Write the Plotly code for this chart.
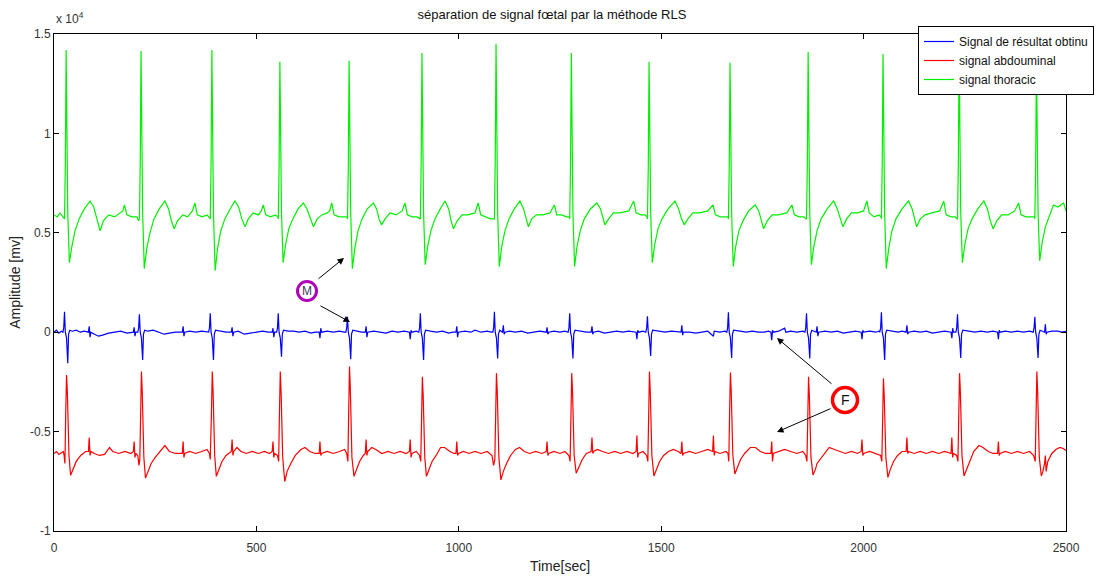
import plotly.graph_objects as go

# ---------------- data (amplitude in units of 1e4, time in samples) ----------------
TITLE = "séparation de signal fœtal par la méthode RLS"
SERIES_NAMES = ["Signal de résultat obtinu", "signal abdouminal", "signal thoracic"]
X_TICKS = [0, 500, 1000, 1500, 2000, 2500]
Y_TICKS = [-1, -0.5, 0, 0.5, 1, 1.5]
Y_TICK_TEXT = ["-1", "-0.5", "0", "0.5", "1", "1.5"]

THORACIC = [
    (0, 0.59), (8, 0.58), (15, 0.60), (22, 0.58),
    (26, 0.57), (28, 0.84), (30, 1.42), (32, 1.01), (34, 0.60), (38, 0.35), (44, 0.43), (52, 0.51), (62, 0.57), (75, 0.62), (89, 0.66), (98, 0.63), (106, 0.57), (114, 0.51), (122, 0.56), (135, 0.59), (150, 0.58), (165, 0.60), (170, 0.61), (174, 0.64), (180, 0.59), (192, 0.58), (205, 0.58), (209, 0.56),
    (211, 0.57), (213, 0.84), (215, 1.415), (217, 1.0), (219, 0.6), (223, 0.32), (229, 0.42), (237, 0.50), (247, 0.57), (260, 0.62), (274, 0.66), (283, 0.62), (290, 0.56), (297, 0.52), (305, 0.56), (318, 0.59), (330, 0.58), (342, 0.61), (348, 0.65), (354, 0.59), (366, 0.58), (378, 0.59), (385, 0.57),
    (386, 0.57), (388, 0.84), (390, 1.42), (392, 1.0), (394, 0.6), (398, 0.31), (404, 0.42), (412, 0.51), (422, 0.57), (435, 0.62), (447, 0.66), (456, 0.63), (464, 0.57), (472, 0.53), (480, 0.57), (492, 0.60), (505, 0.59), (512, 0.61), (517, 0.64), (523, 0.59), (535, 0.58), (547, 0.59), (553, 0.58),
    (554, 0.57), (556, 0.82), (558, 1.36), (560, 0.98), (562, 0.6), (566, 0.35), (572, 0.44), (580, 0.52), (590, 0.57), (603, 0.62), (616, 0.65), (625, 0.62), (633, 0.57), (641, 0.53), (650, 0.57), (662, 0.59), (675, 0.60), (681, 0.61), (686, 0.65), (692, 0.59), (704, 0.58), (716, 0.58), (724, 0.58),
    (725, 0.57), (727, 0.82), (729, 1.365), (731, 0.98), (733, 0.6), (737, 0.32), (743, 0.42), (751, 0.51), (761, 0.57), (774, 0.62), (789, 0.65), (797, 0.62), (803, 0.57), (809, 0.54), (818, 0.57), (830, 0.60), (845, 0.59), (860, 0.61), (867, 0.65), (873, 0.59), (885, 0.58), (897, 0.58), (904, 0.57),
    (905, 0.57), (907, 0.84), (909, 1.405), (911, 1.0), (913, 0.6), (917, 0.34), (923, 0.43), (931, 0.51), (941, 0.57), (954, 0.62), (966, 0.66), (975, 0.62), (981, 0.56), (987, 0.52), (996, 0.56), (1008, 0.59), (1022, 0.59), (1040, 0.60), (1048, 0.65), (1054, 0.59), (1066, 0.58), (1078, 0.57), (1087, 0.57),
    (1088, 0.57), (1090, 0.86), (1092, 1.45), (1094, 1.02), (1096, 0.6), (1100, 0.33), (1106, 0.43), (1114, 0.51), (1124, 0.57), (1137, 0.62), (1151, 0.66), (1160, 0.62), (1166, 0.57), (1172, 0.53), (1180, 0.57), (1192, 0.59), (1207, 0.59), (1225, 0.60), (1236, 0.64), (1242, 0.59), (1254, 0.59), (1266, 0.58), (1273, 0.58),
    (1274, 0.57), (1276, 0.84), (1278, 1.405), (1280, 1.0), (1282, 0.6), (1286, 0.33), (1292, 0.43), (1300, 0.51), (1310, 0.57), (1325, 0.62), (1341, 0.65), (1350, 0.62), (1356, 0.57), (1361, 0.54), (1370, 0.57), (1382, 0.60), (1398, 0.60), (1420, 0.61), (1432, 0.66), (1438, 0.60), (1450, 0.59), (1460, 0.59), (1465, 0.58),
    (1466, 0.57), (1468, 0.82), (1470, 1.36), (1472, 0.98), (1474, 0.6), (1478, 0.35), (1484, 0.44), (1492, 0.52), (1502, 0.57), (1517, 0.62), (1534, 0.66), (1543, 0.62), (1550, 0.57), (1557, 0.54), (1566, 0.57), (1578, 0.60), (1595, 0.60), (1615, 0.61), (1628, 0.64), (1634, 0.59), (1646, 0.58), (1658, 0.58), (1665, 0.58),
    (1666, 0.57), (1668, 0.82), (1670, 1.355), (1672, 0.98), (1674, 0.6), (1678, 0.33), (1684, 0.43), (1692, 0.51), (1702, 0.56), (1716, 0.61), (1732, 0.64), (1741, 0.61), (1747, 0.56), (1753, 0.52), (1762, 0.56), (1774, 0.59), (1790, 0.59), (1810, 0.60), (1823, 0.64), (1829, 0.59), (1841, 0.58), (1852, 0.58), (1858, 0.57),
    (1859, 0.57), (1861, 0.84), (1863, 1.41), (1865, 1.0), (1867, 0.6), (1871, 0.34), (1877, 0.43), (1885, 0.51), (1895, 0.57), (1910, 0.62), (1926, 0.66), (1935, 0.62), (1942, 0.57), (1949, 0.53), (1958, 0.57), (1970, 0.60), (1985, 0.60), (2000, 0.61), (2008, 0.66), (2014, 0.60), (2026, 0.58), (2038, 0.59), (2043, 0.58),
    (2044, 0.57), (2046, 0.84), (2048, 1.40), (2050, 1.0), (2052, 0.6), (2056, 0.32), (2062, 0.42), (2070, 0.51), (2080, 0.57), (2095, 0.62), (2111, 0.66), (2120, 0.62), (2126, 0.57), (2131, 0.53), (2140, 0.57), (2152, 0.59), (2168, 0.60), (2188, 0.61), (2198, 0.66), (2204, 0.59), (2216, 0.58), (2226, 0.58), (2231, 0.57),
    (2232, 0.57), (2234, 0.84), (2236, 1.42), (2238, 1.0), (2240, 0.6), (2244, 0.35), (2250, 0.44), (2258, 0.52), (2268, 0.57), (2282, 0.62), (2297, 0.66), (2306, 0.62), (2313, 0.56), (2320, 0.52), (2329, 0.56), (2341, 0.59), (2357, 0.59), (2373, 0.61), (2383, 0.65), (2389, 0.59), (2401, 0.58), (2414, 0.58), (2422, 0.58),
    (2423, 0.57), (2425, 0.82), (2427, 1.38), (2429, 0.98), (2431, 0.6), (2435, 0.36), (2441, 0.45), (2449, 0.53), (2459, 0.59), (2469, 0.64), (2480, 0.63), (2494, 0.65), (2500, 0.61),
]

RESULT = [
    (0, 0.0), (6, 0.01), (12, -0.005), (18, 0.005),
    (22, 0.0), (24, 0.02), (26, 0.103), (28, 0.0), (31, -0.03), (34, -0.156), (36, -0.01), (39, 0.01), (45, 0.005), (55, 0.01), (65, 0.0), (75, 0.005),
    (85, 0.0), (87, 0.03), (89, -0.025), (91, 0.0),
    (100, -0.01), (110, -0.02), (120, -0.015), (135, -0.005), (150, 0.0), (165, 0.005), (180, -0.005),
    (196, 0.0), (198, 0.025), (200, -0.02), (202, 0.0),
    (207, 0.0), (209, 0.02), (211, 0.09), (213, 0.0), (216, -0.03), (219, -0.14), (221, -0.01), (224, 0.01), (232, 0.005), (245, 0.01), (258, 0.0), (272, -0.01), (285, -0.005), (300, 0.0),
    (317, 0.0), (319, 0.03), (321, -0.02), (323, 0.0),
    (335, 0.005), (350, 0.0), (365, 0.005), (378, 0.0),
    (382, 0.0), (384, 0.02), (386, 0.095), (388, 0.0), (391, -0.03), (394, -0.14), (396, -0.01), (399, 0.01), (410, 0.005), (425, 0.0),
    (438, 0.0), (440, 0.025), (442, -0.02), (444, 0.0),
    (455, 0.005), (470, -0.01), (485, -0.005), (500, 0.0), (515, 0.005), (530, 0.0),
    (539, 0.0), (541, 0.02), (543, -0.025), (545, 0.0),
    (550, 0.0), (552, 0.02), (554, 0.095), (556, 0.0), (559, -0.03), (562, -0.123), (564, -0.01), (567, 0.01), (578, 0.005), (592, 0.005), (605, 0.0), (620, 0.005), (635, -0.005), (645, 0.0),
    (655, 0.0), (657, -0.03), (659, 0.02), (661, 0.0),
    (675, 0.005), (690, 0.0), (705, 0.005), (717, 0.0),
    (721, 0.0), (723, 0.02), (725, 0.078), (727, 0.0), (730, -0.03), (733, -0.136), (735, -0.01), (738, 0.01), (748, 0.005), (760, 0.0),
    (769, 0.0), (771, 0.03), (773, -0.025), (775, 0.0),
    (790, 0.005), (805, 0.0), (820, -0.005), (835, 0.005), (850, 0.0), (865, 0.005),
    (878, 0.0), (880, -0.035), (882, 0.01), (884, 0.0),
    (895, 0.005),
    (901, 0.0), (903, 0.02), (905, 0.095), (907, 0.0), (910, -0.03), (913, -0.14), (915, -0.01), (918, 0.01), (930, 0.005), (945, 0.0), (960, 0.005), (975, -0.005), (985, 0.0),
    (993, 0.0), (995, 0.03), (997, -0.025), (999, 0.0),
    (1015, 0.005), (1030, 0.0), (1040, 0.01), (1055, 0.0), (1070, 0.005), (1080, 0.0),
    (1084, 0.0), (1086, 0.02), (1088, 0.103), (1090, 0.0), (1093, -0.03), (1096, -0.132), (1098, -0.01), (1101, 0.01),
    (1108, 0.0), (1110, 0.035), (1112, -0.01), (1114, 0.0),
    (1125, 0.005), (1140, 0.0), (1155, 0.005), (1170, -0.005), (1185, 0.0), (1200, 0.005),
    (1216, 0.0), (1218, 0.025), (1220, -0.01), (1222, 0.0),
    (1235, 0.005), (1250, 0.0), (1262, 0.005),
    (1270, 0.0), (1272, 0.02), (1274, 0.095), (1276, 0.0), (1279, -0.03), (1282, -0.132), (1284, -0.01), (1287, 0.01), (1300, 0.005), (1315, 0.0),
    (1327, 0.0), (1329, 0.03), (1331, -0.01), (1333, 0.0),
    (1345, 0.005), (1360, -0.005), (1375, 0.0), (1390, 0.005), (1405, 0.0), (1420, 0.005),
    (1438, 0.0), (1440, -0.035), (1442, 0.01), (1444, 0.0),
    (1455, 0.005),
    (1462, 0.0), (1464, 0.02), (1466, 0.08), (1468, 0.0), (1471, -0.03), (1474, -0.12), (1476, -0.01), (1479, 0.01), (1495, 0.005), (1510, 0.0), (1525, 0.005), (1540, 0.0),
    (1549, 0.0), (1551, 0.035), (1553, -0.015), (1555, 0.0),
    (1570, 0.0), (1585, -0.005), (1600, 0.0), (1615, 0.005), (1629, -0.02), (1631, 0.005), (1645, 0.0), (1658, 0.005),
    (1662, 0.0), (1664, 0.02), (1666, 0.10), (1668, 0.0), (1671, -0.03), (1674, -0.13), (1676, -0.01), (1679, 0.01), (1695, 0.005), (1710, 0.0), (1725, 0.005), (1740, 0.0), (1755, 0.0), (1765, 0.005),
    (1771, 0.0), (1773, -0.04), (1775, 0.01), (1777, 0.0),
    (1790, 0.005), (1805, 0.02), (1808, 0.0), (1820, 0.005), (1835, 0.0), (1850, 0.005),
    (1855, 0.0), (1857, 0.02), (1859, 0.095), (1861, 0.0), (1864, -0.03), (1867, -0.132), (1869, -0.01), (1872, 0.01),
    (1883, 0.0), (1885, 0.03), (1887, -0.02), (1889, 0.0),
    (1905, 0.005), (1920, 0.0), (1935, 0.005), (1950, -0.005), (1965, 0.0), (1980, 0.005),
    (1994, 0.0), (1996, -0.035), (1998, 0.01), (2000, 0.0),
    (2015, 0.005), (2030, 0.0), (2038, 0.005),
    (2040, 0.0), (2042, 0.02), (2044, 0.10), (2046, 0.0), (2049, -0.03), (2052, -0.14), (2054, -0.01), (2057, 0.01), (2070, 0.005), (2085, 0.0), (2095, 0.005),
    (2105, 0.0), (2107, 0.035), (2109, -0.01), (2111, 0.0),
    (2125, 0.005), (2140, 0.0), (2155, 0.005), (2170, -0.005), (2185, 0.0), (2200, 0.005),
    (2216, 0.0), (2218, -0.03), (2220, 0.02), (2222, 0.0),
    (2228, 0.0), (2230, 0.02), (2232, 0.09), (2234, 0.0), (2237, -0.03), (2240, -0.13), (2242, -0.01), (2245, 0.01), (2260, 0.005), (2275, 0.0), (2290, 0.005), (2305, 0.0), (2320, 0.005),
    (2331, 0.0), (2333, -0.035), (2335, 0.01), (2337, 0.0),
    (2350, 0.005), (2365, 0.0), (2380, 0.005), (2395, 0.0), (2410, 0.005),
    (2419, 0.0), (2421, 0.02), (2423, 0.078), (2425, 0.0), (2428, -0.03), (2431, -0.13), (2433, -0.01), (2436, 0.01),
    (2447, 0.0), (2449, 0.04), (2451, -0.01), (2453, 0.0),
    (2465, 0.005), (2480, 0.005), (2490, 0.0), (2500, 0.005),
]

ABDOMINAL = [
    (0, -0.61), (6, -0.60), (12, -0.615), (18, -0.605), (23, -0.60),
    (25, -0.62), (27, -0.66), (29, -0.40), (31, -0.215), (33, -0.30), (35, -0.45), (37, -0.62), (41, -0.72), (47, -0.69), (55, -0.65), (66, -0.62), (78, -0.60),
    (85, -0.60), (87, -0.53), (89, -0.62), (91, -0.60),
    (100, -0.61), (112, -0.62), (125, -0.615), (137, -0.58), (145, -0.60), (160, -0.61), (175, -0.60), (190, -0.61),
    (196, -0.60), (198, -0.55), (200, -0.63), (202, -0.61),
    (207, -0.62), (210, -0.67), (212, -0.64), (214, -0.40), (216, -0.198), (218, -0.30), (220, -0.46), (222, -0.63), (226, -0.734), (232, -0.70), (240, -0.66), (250, -0.63), (262, -0.60), (274, -0.57), (285, -0.60), (300, -0.61),
    (317, -0.61), (319, -0.55), (321, -0.63), (323, -0.61),
    (335, -0.60), (350, -0.61), (365, -0.60), (378, -0.59), (384, -0.61),
    (386, -0.64), (389, -0.40), (391, -0.198), (393, -0.30), (395, -0.45), (397, -0.62), (401, -0.725), (407, -0.69), (415, -0.65), (425, -0.62),
    (438, -0.60), (440, -0.54), (442, -0.62), (444, -0.60),
    (452, -0.58), (462, -0.60), (475, -0.61), (490, -0.60), (505, -0.61), (520, -0.60), (532, -0.61),
    (539, -0.60), (541, -0.55), (543, -0.63), (545, -0.61),
    (552, -0.62),
    (555, -0.65), (557, -0.40), (559, -0.198), (561, -0.30), (563, -0.45), (565, -0.63), (570, -0.751), (576, -0.70), (585, -0.66), (596, -0.62), (610, -0.59), (620, -0.58), (632, -0.60), (645, -0.61),
    (655, -0.61), (657, -0.55), (659, -0.62), (661, -0.61),
    (675, -0.60), (690, -0.61), (705, -0.60), (718, -0.59), (723, -0.61),
    (726, -0.65), (728, -0.40), (730, -0.173), (732, -0.28), (734, -0.45), (736, -0.63), (741, -0.725), (747, -0.69), (755, -0.65), (764, -0.62),
    (769, -0.61), (771, -0.54), (773, -0.62), (775, -0.60),
    (785, -0.58), (795, -0.59), (810, -0.61), (825, -0.60), (840, -0.61), (855, -0.60), (870, -0.61),
    (878, -0.60), (880, -0.54), (882, -0.63), (884, -0.61),
    (895, -0.60), (903, -0.62),
    (906, -0.65), (908, -0.42), (910, -0.224), (912, -0.32), (914, -0.46), (916, -0.63), (920, -0.725), (926, -0.69), (934, -0.65), (944, -0.62), (955, -0.58), (965, -0.58), (978, -0.60), (988, -0.61),
    (993, -0.61), (995, -0.55), (997, -0.62), (999, -0.61),
    (1012, -0.60), (1025, -0.61), (1040, -0.60), (1055, -0.61), (1070, -0.60), (1082, -0.62),
    (1086, -0.67), (1089, -0.64), (1091, -0.40), (1093, -0.206), (1095, -0.30), (1097, -0.46), (1099, -0.63), (1104, -0.743), (1110, -0.70), (1118, -0.66), (1128, -0.62), (1140, -0.59), (1150, -0.58), (1162, -0.60), (1175, -0.61), (1190, -0.60), (1205, -0.61),
    (1216, -0.60), (1218, -0.55), (1220, -0.62), (1222, -0.61),
    (1235, -0.60), (1250, -0.61), (1262, -0.60), (1272, -0.62),
    (1275, -0.65), (1277, -0.40), (1279, -0.206), (1281, -0.30), (1283, -0.45), (1285, -0.62), (1290, -0.709), (1296, -0.68), (1305, -0.64), (1315, -0.61),
    (1327, -0.60), (1329, -0.53), (1331, -0.61), (1333, -0.60),
    (1342, -0.59), (1355, -0.60), (1370, -0.61), (1385, -0.60), (1400, -0.61), (1415, -0.60), (1430, -0.61),
    (1438, -0.60), (1440, -0.52), (1442, -0.63), (1444, -0.61),
    (1455, -0.60), (1464, -0.62),
    (1467, -0.65), (1469, -0.40), (1471, -0.198), (1473, -0.30), (1475, -0.45), (1477, -0.62), (1482, -0.723), (1488, -0.69), (1496, -0.65), (1506, -0.62), (1518, -0.60), (1530, -0.59), (1542, -0.60),
    (1549, -0.61), (1551, -0.55), (1553, -0.62), (1555, -0.61),
    (1570, -0.60), (1585, -0.61), (1600, -0.60), (1615, -0.59),
    (1627, -0.60), (1629, -0.52), (1631, -0.62), (1633, -0.60),
    (1645, -0.61), (1660, -0.60), (1665, -0.61),
    (1667, -0.65), (1669, -0.40), (1671, -0.203), (1673, -0.30), (1675, -0.45), (1677, -0.62), (1682, -0.713), (1688, -0.68), (1696, -0.64), (1706, -0.61), (1720, -0.58), (1733, -0.58), (1745, -0.60), (1758, -0.61), (1768, -0.61),
    (1771, -0.61), (1773, -0.55), (1775, -0.65), (1777, -0.61),
    (1790, -0.60), (1805, -0.59), (1820, -0.60), (1835, -0.61), (1850, -0.60), (1857, -0.62),
    (1860, -0.65), (1862, -0.42), (1864, -0.224), (1866, -0.32), (1868, -0.46), (1870, -0.63), (1875, -0.718),
    (1881, -0.69), (1885, -0.66), (1893, -0.64), (1903, -0.61), (1915, -0.58), (1928, -0.59), (1940, -0.60), (1955, -0.61), (1970, -0.60), (1985, -0.61),
    (1994, -0.60), (1996, -0.54), (1998, -0.62), (2000, -0.61),
    (2015, -0.60), (2030, -0.61), (2042, -0.62),
    (2045, -0.65), (2047, -0.43), (2049, -0.232), (2051, -0.32), (2053, -0.47), (2055, -0.63), (2060, -0.73), (2066, -0.69), (2074, -0.65), (2084, -0.62), (2095, -0.60),
    (2105, -0.60), (2107, -0.53), (2109, -0.61), (2111, -0.60),
    (2125, -0.61), (2140, -0.60), (2155, -0.61), (2170, -0.60), (2185, -0.61), (2200, -0.60),
    (2216, -0.61), (2218, -0.53), (2220, -0.63), (2222, -0.61),
    (2230, -0.62),
    (2233, -0.65), (2235, -0.40), (2237, -0.206), (2239, -0.30), (2241, -0.45), (2243, -0.62), (2248, -0.723), (2254, -0.69), (2262, -0.65), (2272, -0.60), (2285, -0.57), (2295, -0.58), (2308, -0.60), (2320, -0.61),
    (2331, -0.61), (2333, -0.55), (2335, -0.62), (2337, -0.61),
    (2350, -0.60), (2365, -0.61), (2380, -0.60), (2395, -0.61), (2410, -0.60), (2420, -0.62),
    (2424, -0.65), (2426, -0.40), (2428, -0.198), (2430, -0.30), (2432, -0.45), (2434, -0.63), (2439, -0.723), (2443, -0.70), (2447, -0.66),
    (2449, -0.62), (2451, -0.70), (2455, -0.65), (2465, -0.61), (2475, -0.59), (2485, -0.58), (2493, -0.585), (2500, -0.595),
]

# ---------------- layout geometry ----------------
W, H = 1110, 581
L, R, T, B = 54, 44, 34, 50
X_RANGE = [0, 2500]
Y_RANGE = [-1, 1.5]
FONT = "Liberation Sans, Arial, sans-serif"

pw = W - L - R
ph = H - T - B


def px2x(px):
    return X_RANGE[0] + (px - L) / pw * (X_RANGE[1] - X_RANGE[0])


def py2y(py):
    return Y_RANGE[1] - (py - T) / ph * (Y_RANGE[1] - Y_RANGE[0])


fig = go.Figure()
colors = ["#0000ff", "#ff0000", "#00f000"]
for name, data, col in zip(SERIES_NAMES, [RESULT, ABDOMINAL, THORACIC], colors):
    xs = [p[0] for p in data]
    ys = [p[1] for p in data]
    fig.add_trace(go.Scatter(x=xs, y=ys, mode="lines", name=name,
                             line=dict(color=col, width=1.2)))

axis_common = dict(showline=True, linecolor="black", linewidth=1, mirror="ticks",
                   ticks="inside", ticklen=5, tickcolor="black", showgrid=False,
                   zeroline=False, tickfont=dict(family=FONT, size=12, color="#333333"))

fig.update_xaxes(range=X_RANGE, tickvals=X_TICKS, ticklabelstandoff=6, automargin=False,
                 **axis_common,
                 title=dict(text="Time[sec]", font=dict(family=FONT, size=14, color="#222222"),
                            standoff=6))
fig.update_yaxes(range=Y_RANGE, tickvals=Y_TICKS, ticktext=Y_TICK_TEXT, automargin=False,
                 **axis_common,
                 title=dict(text="Amplitude [mv]", font=dict(family=FONT, size=14, color="#222222"),
                            standoff=6))

annotations = [
    dict(text="x 10<sup>4</sup>", xref="paper", yref="paper", x=0, y=(H - B - 18) / ph,
         xanchor="left", yanchor="middle", showarrow=False,
         font=dict(family=FONT, size=12, color="#333333")),
]

# M and F markers with arrows
mcx, mcy = 307, 291
fcx, fcy = 845, 400
annotations += [
    dict(text="M", x=px2x(mcx), y=py2y(mcy), showarrow=False,
         font=dict(family=FONT, size=12, color="#3c3c5a")),
    dict(text="F", x=px2x(fcx), y=py2y(fcy), showarrow=False,
         font=dict(family=FONT, size=14, color="#111111")),
]
for tip, tail in [((344, 258), (317, 280)), ((350, 322), (319, 305)),
                  ((777, 338), (833, 385)), ((777, 432), (832, 408))]:
    annotations.append(dict(x=px2x(tip[0]), y=py2y(tip[1]), ax=tail[0] - tip[0], ay=tail[1] - tip[1],
                            axref="pixel", ayref="pixel", text="", showarrow=True,
                            arrowhead=2, arrowsize=1.3, arrowwidth=1, arrowcolor="black"))

shapes = [
    dict(type="circle", xref="x", yref="y", xsizemode="pixel", ysizemode="pixel",
         xanchor=px2x(mcx), yanchor=py2y(mcy), x0=-9.5, x1=9.5, y0=-9.5, y1=9.5,
         line=dict(color="#b000b8", width=3), fillcolor="white", layer="above"),
    dict(type="circle", xref="x", yref="y", xsizemode="pixel", ysizemode="pixel",
         xanchor=px2x(fcx), yanchor=py2y(fcy), x0=-12.5, x1=12.5, y0=-12.5, y1=12.5,
         line=dict(color="#ff0000", width=3.5), fillcolor="white", layer="above"),
]

fig.update_layout(
    width=W, height=H,
    margin=dict(l=L, r=R, t=T, b=B, pad=0, autoexpand=False),
    paper_bgcolor="white", plot_bgcolor="white",
    title=dict(text=TITLE, x=552 / W, xref="container", xanchor="center",
               y=1 - 14 / H, yref="container", yanchor="middle",
               font=dict(family=FONT, size=13, color="#111111")),
    legend=dict(x=(918 - L) / pw, y=(H - B - 26) / ph, xanchor="left", yanchor="top",
                bgcolor="white", bordercolor="black", borderwidth=1,
                font=dict(family=FONT, size=12, color="#111111"),
                tracegroupgap=0),
    annotations=annotations,
    shapes=shapes,
    showlegend=True,
)

fig.write_html("out.html")
